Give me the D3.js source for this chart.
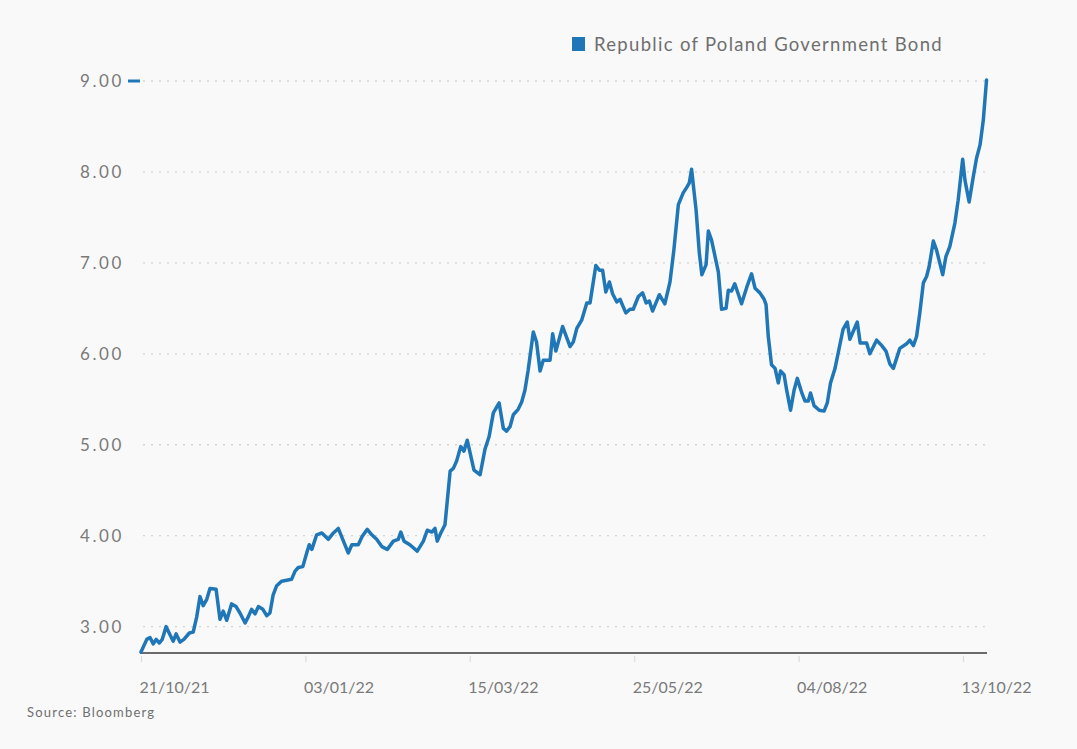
<!DOCTYPE html>
<html>
<head>
<meta charset="utf-8">
<script src="https://cdn.jsdelivr.net/npm/d3@7"></script>
<style>
  html, body { margin: 0; padding: 0; background: #f9f9f9; }
  svg { display: block; }
  text { font-family: Lato, "Noto Sans", sans-serif; }
</style>
</head>
<body>
<script>
// Trading days since 21/10/21
const day = [0,1.8,2.8,3.8,4.7,5.7,6.6,7.8,9.0,10.0,10.9,12.1,13.3,15.0,16.2,17.3,18.3,19.3,20.4,21.4,23.3,24.5,25.5,26.6,28.1,29.5,30.7,32.3,33.3,34.3,35.4,36.4,37.8,39.0,40.0,41.0,42.1,43.6,45.2,46.7,47.8,48.8,50.2,51.4,52.2,53.0,54.5,56.1,58.1,59.7,61.2,62.8,64.3,65.4,67.4,68.6,70.2,71.6,73.1,74.7,76.4,78.3,79.8,80.6,81.6,83.4,85.7,87.6,88.8,90.2,91.2,91.9,93.0,94.3,95.9,96.9,97.9,99.2,100.2,101.2,103.3,105.2,106.7,108.0,109.3,111.1,112.4,113.4,114.5,115.5,117.0,118.1,119.1,120.1,121.7,122.7,123.8,124.8,126.9,127.7,128.7,130.8,133.1,134.1,135.2,136.7,138.3,139.3,141.1,142.2,143.2,144.2,145.3,146.3,147.6,148.6,150.4,151.7,152.7,154.3,155.6,156.7,157.7,158.7,160.8,162.5,164.1,165.3,166.7,168.2,169.3,170.1,170.8,172.2,173.2,174.0,175.3,176.0,177.0,179.1,180.1,181.5,182.2,183.2,184.2,186.3,187.9,189.4,190.5,192.0,193.3,193.9,194.6,195.6,196.7,197.7,198.4,199.5,200.3,201.5,202.6,203.6,205.0,206.0,207.0,207.7,208.8,210.4,211.9,212.9,213.9,215.3,217.8,219.1,219.9,222.2,223.1,225.1,226.1,228.2,229.8,231.1,232.3,233.4,234.4,235.4,237.5,238.5,239.6,240.6,241.6,242.7,243.7,244.5,245.8,246.8,248.7,249.7,250.9,252.5,253.5,254.9,255.6,256.9,258.2,259.2,260.3,261.3,262.3];
const yieldPct = [2.72,2.86,2.88,2.81,2.86,2.82,2.86,3.00,2.91,2.84,2.92,2.83,2.86,2.93,2.94,3.11,3.33,3.23,3.30,3.42,3.41,3.08,3.17,3.07,3.25,3.22,3.15,3.04,3.11,3.19,3.14,3.22,3.19,3.12,3.15,3.35,3.45,3.50,3.51,3.52,3.61,3.65,3.66,3.81,3.90,3.85,4.01,4.03,3.96,4.03,4.08,3.94,3.81,3.90,3.90,3.99,4.07,4.01,3.96,3.88,3.85,3.94,3.96,4.04,3.94,3.90,3.83,3.94,4.06,4.04,4.08,3.94,4.03,4.12,4.71,4.74,4.82,4.98,4.93,5.05,4.72,4.67,4.95,5.09,5.35,5.46,5.18,5.15,5.20,5.33,5.39,5.47,5.60,5.82,6.24,6.13,5.81,5.93,5.93,6.22,6.03,6.30,6.08,6.13,6.28,6.37,6.56,6.56,6.97,6.92,6.92,6.68,6.79,6.66,6.57,6.60,6.45,6.49,6.49,6.63,6.67,6.56,6.58,6.47,6.65,6.55,6.79,7.14,7.64,7.77,7.83,7.88,8.03,7.58,7.11,6.87,6.98,7.35,7.25,6.90,6.49,6.50,6.70,6.69,6.77,6.55,6.73,6.88,6.72,6.67,6.60,6.54,6.19,5.88,5.84,5.68,5.81,5.77,5.60,5.38,5.60,5.73,5.57,5.48,5.48,5.57,5.43,5.38,5.37,5.46,5.68,5.84,6.27,6.35,6.16,6.35,6.12,6.12,6.00,6.15,6.09,6.03,5.89,5.84,5.95,6.06,6.11,6.15,6.09,6.19,6.45,6.78,6.85,6.96,7.24,7.14,6.87,7.07,7.18,7.44,7.69,8.14,7.91,7.67,7.95,8.15,8.30,8.57,9.01];

const tickDays = [0, 51, 102, 153, 204, 255];
const tickLabels = ["21/10/21", "03/01/22", "15/03/22", "25/05/22", "04/08/22", "13/10/22"];
const yTicks = [3, 4, 5, 6, 7, 8, 9];
const seriesName = "Republic of Poland Government Bond";
const sourceText = "Source: Bloomberg";

const W = 1077, H = 749;
const blue = "#1f77b8";
const svg = d3.select("body").append("svg").attr("width", W).attr("height", H);
svg.append("rect").attr("width", W).attr("height", H).attr("fill", "#f9f9f9");

const x = d3.scaleLinear().domain([0, 255]).range([141, 963]);
const y = d3.scaleLinear().domain([2.71, 9]).range([653, 81]);
const plotRight = 990;

// gridlines
svg.append("g").selectAll("line").data(yTicks).join("line")
  .attr("x1", 143).attr("x2", plotRight)
  .attr("y1", d => y(d)).attr("y2", d => y(d))
  .attr("stroke", "#d4d4d4").attr("stroke-width", 1.3)
  .attr("stroke-dasharray", "2,6");

// y labels
svg.append("g").selectAll("text").data(yTicks).join("text")
  .attr("x", 124).attr("y", d => y(d)).attr("dy", "0.35em")
  .attr("text-anchor", "end").attr("fill", "#7a7a7a")
  .attr("font-size", 17).attr("letter-spacing", 2.6)
  .text(d => d3.format(".2f")(d));

// blue dash next to 9.00
svg.append("line").attr("x1", 128).attr("x2", 140)
  .attr("y1", y(9)).attr("y2", y(9))
  .attr("stroke", blue).attr("stroke-width", 3);

// x axis
const xAxis = d3.axisBottom(x).tickValues(tickDays).tickSize(8).tickFormat((d, i) => tickLabels[i]);
const gx = svg.append("g").attr("transform", `translate(0,${y(2.71) + 1})`).call(xAxis);
gx.select(".domain").remove();
gx.selectAll(".tick line").attr("stroke", "#dcdcdc").attr("stroke-width", 1.2).attr("y1", 2);
gx.selectAll(".tick text").attr("text-anchor", "start").attr("dx", -2).attr("y", 28)
  .attr("fill", "#7a7a7a").attr("font-size", 16).attr("font-family", "Lato, 'Noto Sans', sans-serif");

// baseline
svg.append("line").attr("x1", 140).attr("x2", 987)
  .attr("y1", y(2.71)).attr("y2", y(2.71))
  .attr("stroke", "#6b6b6b").attr("stroke-width", 2);

// series line
const pts = day.map((d, i) => [d, yieldPct[i]]);
svg.append("path").datum(pts)
  .attr("fill", "none").attr("stroke", blue).attr("stroke-width", 3.5)
  .attr("stroke-linejoin", "round").attr("stroke-linecap", "round")
  .attr("d", d3.line().x(d => x(d[0])).y(d => y(d[1])));

// legend
svg.append("rect").attr("x", 572).attr("y", 37).attr("width", 13).attr("height", 14).attr("fill", blue);
svg.append("text").attr("x", 594).attr("y", 51).attr("fill", "#6f6f6f")
  .attr("font-size", 18.5).attr("letter-spacing", 1.3).text(seriesName);

// source
svg.append("text").attr("x", 27).attr("y", 717).attr("fill", "#6f6f6f")
  .attr("font-size", 13).attr("letter-spacing", 1.2).text(sourceText);
</script>
</body>
</html>
